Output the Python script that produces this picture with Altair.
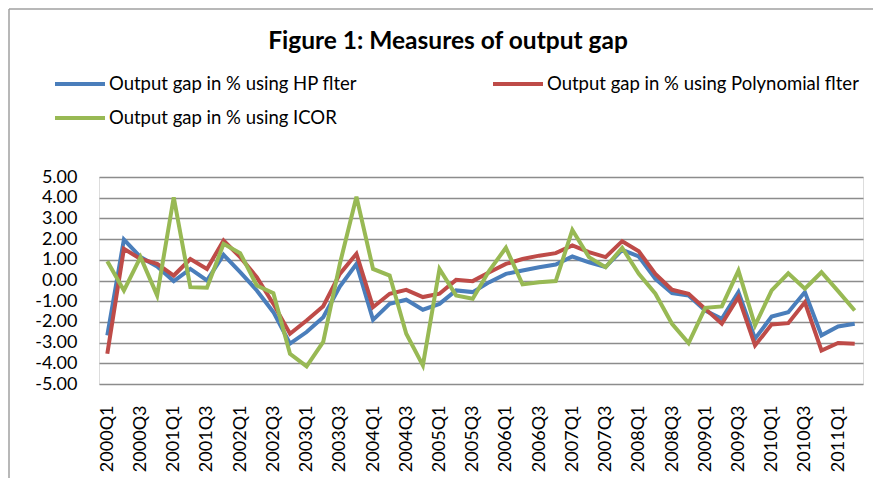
import altair as alt
import pandas as pd

quarters = [
    "2000Q1", "2000Q2", "2000Q3", "2000Q4", "2001Q1", "2001Q2", "2001Q3", "2001Q4",
    "2002Q1", "2002Q2", "2002Q3", "2002Q4", "2003Q1", "2003Q2", "2003Q3", "2003Q4",
    "2004Q1", "2004Q2", "2004Q3", "2004Q4", "2005Q1", "2005Q2", "2005Q3", "2005Q4",
    "2006Q1", "2006Q2", "2006Q3", "2006Q4", "2007Q1", "2007Q2", "2007Q3", "2007Q4",
    "2008Q1", "2008Q2", "2008Q3", "2008Q4", "2009Q1", "2009Q2", "2009Q3", "2009Q4",
    "2010Q1", "2010Q2", "2010Q3", "2010Q4", "2011Q1", "2011Q2",
]
tick_labels = [
    "2000Q1", "2000Q3", "2001Q1", "2001Q3", "2002Q1", "2002Q3", "2003Q1", "2003Q3",
    "2004Q1", "2004Q3", "2005Q1", "2005Q3", "2006Q1", "2006Q3", "2007Q1", "2007Q3",
    "2008Q1", "2008Q3", "2009Q1", "2009Q3", "2010Q1", "2010Q3", "2011Q1",
]
hp_filter = [
    -2.65, 1.98, 1.13, 0.68, -0.03, 0.56, 0.00, 1.24, 0.40, -0.48, -1.53, -3.05,
    -2.49, -1.77, -0.29, 0.80, -1.90, -1.13, -0.93, -1.41, -1.13, -0.48, -0.56, -0.08,
    0.32, 0.48, 0.64, 0.77, 1.16, 0.88, 0.65, 1.48, 1.16, 0.08, -0.61, -0.72,
    -1.45, -1.85, -0.56, -2.81, -1.74, -1.53, -0.56, -2.65, -2.22, -2.09,
]
polynomial_filter = [
    -3.54, 1.53, 1.04, 0.80, 0.24, 1.04, 0.56, 1.93, 1.13, 0.16, -1.13, -2.57,
    -1.93, -1.24, 0.32, 1.29, -1.29, -0.64, -0.45, -0.80, -0.64, 0.03, -0.03, 0.40,
    0.80, 1.04, 1.20, 1.32, 1.69, 1.37, 1.13, 1.90, 1.41, 0.32, -0.45, -0.64,
    -1.37, -2.09, -0.80, -3.14, -2.12, -2.06, -1.05, -3.38, -3.02, -3.05,
]
icor = [
    0.93, -0.48, 1.13, -0.72, 4.02, -0.32, -0.35, 1.77, 1.32, -0.24, -0.61, -3.54,
    -4.15, -2.97, 0.80, 4.05, 0.56, 0.24, -2.57, -4.10, 0.56, -0.72, -0.88, 0.48,
    1.58, -0.19, -0.08, -0.03, 2.44, 1.13, 0.64, 1.58, 0.32, -0.64, -2.09, -3.02,
    -1.32, -1.25, 0.48, -2.17, -0.48, 0.35, -0.40, 0.40, -0.51, -1.45,
]
series_names = [
    "Output gap in % using HP flter",
    "Output gap in % using Polynomial flter",
    "Output gap in % using ICOR",
]
series_colors = ["#4a7ebb", "#be4b48", "#98b954"]
# legend fills column by column: HP and ICOR in the first column, Polynomial in the second
legend_order = [series_names[0], series_names[2], series_names[1]]
legend_colors = [series_colors[0], series_colors[2], series_colors[1]]
y_ticks = [-5, -4, -3, -2, -1, 0, 1, 2, 3, 4, 5]

rows = []
for name, vals in zip(series_names, [hp_filter, polynomial_filter, icor]):
    for q, v in zip(quarters, vals):
        rows.append({"quarter": q, "value": v, "series": name})
df = pd.DataFrame(rows)

FONT = "Lato"

lines = alt.Chart(df).mark_line(strokeWidth=4).encode(
    x=alt.X(
        "quarter:N",
        sort=quarters,
        scale=alt.Scale(type="point", padding=0.5),
        axis=alt.Axis(
            values=tick_labels, labelAngle=270, title=None, ticks=False, domain=False,
            grid=False, labelPadding=21, labelFontSize=18, labelFont=FONT,
            labelColor="#000000",
        ),
    ),
    y=alt.Y(
        "value:Q",
        scale=alt.Scale(domain=[-5, 5], nice=False, zero=False),
        axis=alt.Axis(
            values=y_ticks, title=None, ticks=False, domain=False, grid=True,
            gridColor="#8c8c8c", gridWidth=1.4, labelPadding=22, labelFontSize=18,
            labelFont=FONT, labelColor="#000000",
            labelExpr="datum.value < 0 ? '-' + format(-datum.value, '.2f') : format(datum.value, '.2f')",
        ),
    ),
    color=alt.Color(
        "series:N",
        scale=alt.Scale(domain=legend_order, range=legend_colors),
        legend=alt.Legend(
            title=None, orient="none", legendX=-46, legendY=-103, columns=2,
            symbolType="stroke", symbolSize=2500, symbolStrokeWidth=4,
            clipHeight=20, rowPadding=14, columnPadding=133, labelOffset=2,
            labelFontSize=18.5, labelFont=FONT, labelLimit=500, labelColor="#000000",
        ),
    ),
)

frame_top = alt.Chart(alt.Data(values=[{}])).mark_rule(
    stroke="#a0a0a0", strokeWidth=1.5
).encode(x=alt.value(-90), x2=alt.value(2000), y=alt.value(-168))

frame_left = alt.Chart(alt.Data(values=[{}])).mark_rule(
    stroke="#a0a0a0", strokeWidth=1.5
).encode(x=alt.value(-90), y=alt.value(-168), y2=alt.value(2000))

chart = alt.layer(frame_top, frame_left, lines).properties(
    width=764,
    height=207,
    autosize=alt.AutoSizeParams(type="none"),
    padding={"left": 91, "top": 169, "right": 10, "bottom": 94},
    title=alt.TitleParams(
        "Figure 1: Measures of output gap", font=FONT, fontSize=24.5, fontWeight="bold",
        anchor="middle", dx=-33, offset=-46, color="#000000",
    ),
).configure_view(stroke=None).configure(background="white")

chart.save("out.html", embed_options={"renderer": "svg", "actions": False})
